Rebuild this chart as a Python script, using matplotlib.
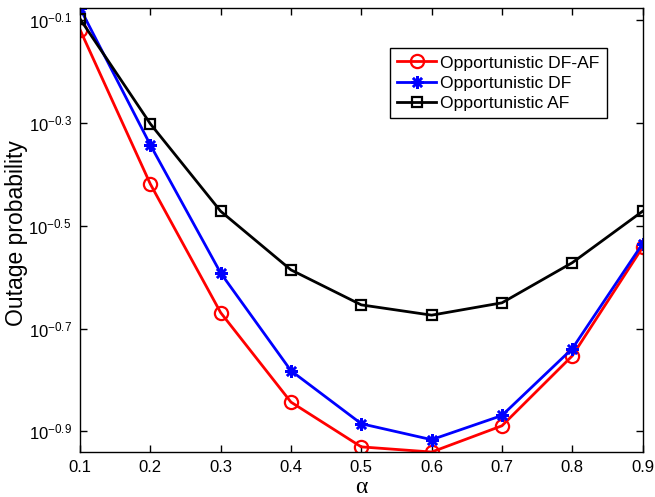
import numpy as np
import matplotlib
matplotlib.use("Agg")
import matplotlib.pyplot as plt
from matplotlib.ticker import FixedLocator, FixedFormatter, NullLocator

alpha = [0.1, 0.2, 0.3, 0.4, 0.5, 0.6, 0.7, 0.8, 0.9]

# log10 of outage probability
log_df_af = [-0.119, -0.419, -0.669, -0.843, -0.930, -0.940, -0.889, -0.753, -0.542]
log_df = [-0.077, -0.343, -0.592, -0.782, -0.885, -0.916, -0.869, -0.739, -0.535]
log_af = [-0.098, -0.302, -0.472, -0.586, -0.654, -0.674, -0.650, -0.572, -0.472]

ytick_exp = [-0.1, -0.3, -0.5, -0.7, -0.9]
xtick_vals = [0.1, 0.2, 0.3, 0.4, 0.5, 0.6, 0.7, 0.8, 0.9]

plt.rcParams['font.family'] = ['Liberation Sans', 'DejaVu Sans']
plt.rcParams['mathtext.fontset'] = 'custom'
plt.rcParams['mathtext.rm'] = 'Liberation Sans'
plt.rcParams['mathtext.it'] = 'Liberation Sans'

df_af = 10 ** np.array(log_df_af)
df = 10 ** np.array(log_df)
af = 10 ** np.array(log_af)

fig = plt.figure(figsize=(6.55, 4.97), dpi=100)
ax = fig.add_axes([0.1221, 0.0905, 0.859, 0.8934])

ax.plot(alpha, df_af, color='red', lw=2, marker='o', ms=9.5, mfc='none',
        mew=1.6, label='Opportunistic DF-AF')
ax.plot(alpha, df, color='blue', lw=2, marker=(8, 2, 0), ms=9, mew=1.8,
        label='Opportunistic DF')
ax.plot(alpha, af, color='black', lw=2, marker='s', ms=7.5, mfc='none',
        mew=1.6, label='Opportunistic AF')

ax.set_yscale('log')
allv = np.concatenate([df_af, df, af])
ax.set_ylim(allv.min(), allv.max())
ax.set_xlim(0.1, 0.9)

ax.yaxis.set_major_locator(FixedLocator([10 ** e for e in ytick_exp]))
ax.yaxis.set_major_formatter(FixedFormatter(['$10^{%g}$' % e for e in ytick_exp]))
ax.yaxis.set_minor_locator(NullLocator())
ax.set_xticks(xtick_vals)
ax.set_xticklabels(['%.1f' % v for v in xtick_vals])

ax.tick_params(direction='in', top=True, right=True, length=5, width=1,
               labelsize=12, pad=6)
for s in ax.spines.values():
    s.set_linewidth(1)

ax.set_ylabel('Outage probability', fontsize=16.5, va='center')
ax.yaxis.set_label_coords(-0.112, 0.494)
ax.set_xlabel('α', fontsize=17, labelpad=1, family=['Liberation Serif', 'DejaVu Serif'])

leg = ax.legend(loc='upper right', bbox_to_anchor=(0.9366, 0.91), borderaxespad=0,
                fontsize=12.6, fancybox=False, edgecolor='black', framealpha=1,
                handlelength=2.2, borderpad=0.42, labelspacing=0.28,
                handletextpad=0.25)
leg.get_frame().set_linewidth(1)

fig.savefig('out.png', dpi=100)
